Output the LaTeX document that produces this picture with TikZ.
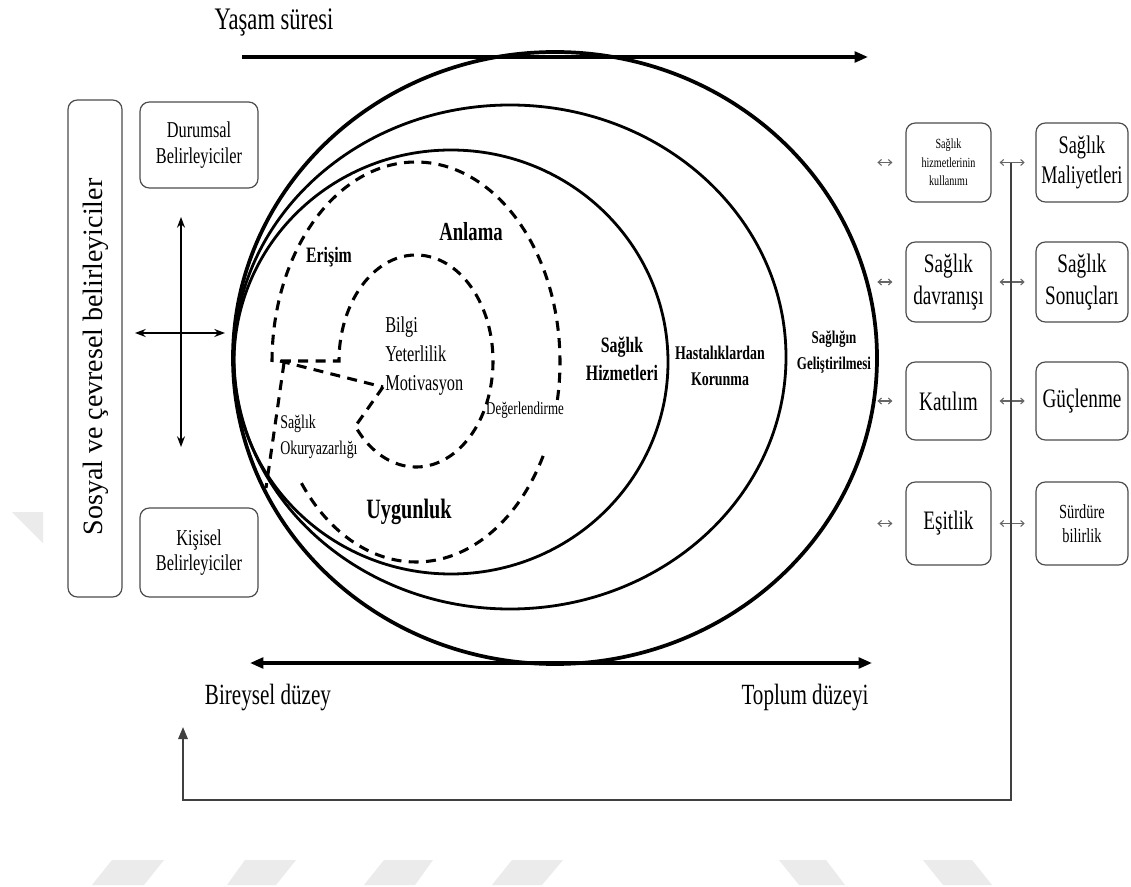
\documentclass[tikz,border=0pt]{standalone}
\usepackage{fontspec}
\setmainfont[FakeStretch=0.72]{Liberation Serif}
\newfontfamily\widefont{Liberation Serif}
\usetikzlibrary{arrows.meta,calc}
\begin{document}
\begin{tikzpicture}[x=0.75pt,y=-0.75pt,
  outerell/.style={line width=2.8pt},
  midell/.style={line width=2.1pt},
  dsh/.style={line width=2.3pt, dash pattern=on 7.5pt off 5.5pt},
  box/.style={draw=black!70, line width=0.9pt, rounded corners=7pt, inner sep=0pt, align=center},
  bigarrow/.style={line width=2.4pt, -{Triangle[length=10pt,width=8pt]}},
  bigdbl/.style={line width=2.4pt, {Triangle[length=10pt,width=8pt]}-{Triangle[length=10pt,width=8pt]}},
  cross/.style={line width=1.1pt, {Stealth[length=8pt,width=6pt]}-{Stealth[length=8pt,width=6pt]}},
  dbl/.style={black!60, line width=0.8pt, {Straight Barb[length=2.5pt,width=4.5pt]}-{Straight Barb[length=2.5pt,width=4.5pt]}},
  fb/.style={black!75, line width=1.6pt, -{Triangle[length=9pt,width=7pt]}},
  wm/.style={fill=black!8, draw=none},
  lab/.style={inner sep=0pt, align=center},
  bl/.style={inner sep=0pt, align=center, font=\bfseries}
]
\useasboundingbox (0,0) rectangle (1131,887);
\fill[white] (0,0) rectangle (1131,887);

% faint watermark shapes
\fill[wm] (112,860) -- (164,860) -- (144,885) -- (92,885) -- cycle;
\fill[wm] (245,860) -- (296,860) -- (276,885) -- (227,885) -- cycle;
\fill[wm] (384,860) -- (433,860) -- (415,885) -- (364,885) -- cycle;
\fill[wm] (512,860) -- (563,860) -- (542,885) -- (492,885) -- cycle;
\fill[wm] (779,860) -- (826,860) -- (845,885) -- (799,885) -- cycle;
\fill[wm] (923,860) -- (972,860) -- (992,885) -- (943,885) -- cycle;
\fill[wm] (12,512) -- (43,512) -- (43,543) -- cycle;

% solid ellipses
\draw[outerell] (555,358) ellipse [x radius=322, y radius=306];
\draw[midell] (510,357) ellipse [x radius=276, y radius=252];
\draw[midell] (451,362) ellipse [x radius=217, y radius=212];

% dashed outer (Anlama) shape
\coordinate (bd) at (416,362);
\draw[dsh] ($(bd)+(28:144 and 200)$) arc[start angle=28, end angle=143, x radius=144, y radius=200];
\draw[dsh] ($(bd)+(180:144 and 200)$) arc[start angle=180, end angle=371, x radius=144, y radius=200];
\coordinate (dnT) at (284,363);
\coordinate (dnB) at (266,488);
\draw[dsh] (dnT) -- (dnB);

% dashed inner shape
\coordinate (ic) at (416,361);
\coordinate (spkE) at (383,387);
\coordinate (spkS) at (280,361);
\coordinate (hL) at (276,361);
\draw[dsh] (spkE) -- ($(ic)+(142:77 and 106)$) arc[start angle=142, end angle=-180, x radius=77, y radius=106] -- (hL);
\draw[dsh] (spkS) -- (spkE);

% top and bottom arrows
\coordinate (lsL) at (242,57);
\coordinate (lsR) at (868,57);
\draw[bigarrow] (lsL) -- (lsR);
\coordinate (bdL) at (250,663);
\coordinate (bdR) at (872,663);
\draw[bigdbl] (bdL) -- (bdR);

\node[lab, font=\fontsize{23.5pt}{27pt}\selectfont] (yas) at (274,22) {Yaşam süresi};
\node[lab, font=\fontsize{22pt}{26pt}\selectfont] (bir) at (268,697) {Bireysel düzey};
\node[lab, font=\fontsize{22pt}{26pt}\selectfont] (top) at (805,697) {Toplum düzeyi};

% labels inside
\node[bl, font=\bfseries\fontsize{19.5pt}{22pt}\selectfont] (anl) at (471,232) {Anlama};
\node[bl, font=\bfseries\fontsize{16.5pt}{19pt}\selectfont] (eri) at (329,257) {Erişim};
\node[bl, font=\bfseries\fontsize{21pt}{24pt}\selectfont] (uyg) at (409,512) {Uygunluk};
\node[lab, align=left, anchor=west, font=\fontsize{17pt}{22pt}\selectfont] (bym) at (385,356) {Bilgi\\Yeterlilik\\Motivasyon};
\node[lab, font=\fontsize{13.5pt}{16pt}\selectfont] (deg) at (525,410) {Değerlendirme};
\node[lab, align=left, anchor=west, font=\fontsize{14.5pt}{19pt}\selectfont] (oky) at (280,437) {Sağlık\\Okuryazarlığı};
\node[bl, font=\bfseries\fontsize{16.5pt}{21pt}\selectfont] (shz) at (622,359) {Sağlık\\Hizmetleri};
\node[bl, font=\bfseries\fontsize{14.5pt}{20pt}\selectfont] (hko) at (720,366) {Hastalıklardan\\Korunma};
\node[bl, font=\bfseries\fontsize{13.5pt}{19pt}\selectfont] (sge) at (834,352) {Sağlığın\\Geliştirilmesi};

% left side
\node[box, minimum width=40.5pt, minimum height=372.75pt] (sos) at (95,348.5) {};
\node[lab, rotate=90, font=\widefont\fontsize{21pt}{24pt}\selectfont] (sost) at (96,357) {Sosyal ve çevresel belirleyiciler};
\node[box, minimum width=88.5pt, minimum height=64.5pt, font=\fontsize{17pt}{19pt}\selectfont] (dur) at (199,145) {Durumsal\\Belirleyiciler};
\node[box, minimum width=88.5pt, minimum height=66.75pt, font=\fontsize{17pt}{19pt}\selectfont] (kis) at (199,552.5) {Kişisel\\Belirleyiciler};
\coordinate (cvT) at (181,217);
\coordinate (cvB) at (181,447);
\coordinate (chL) at (135,333);
\coordinate (chR) at (225,333);
\draw[cross] (cvT) -- (cvB);
\draw[cross] (chL) -- (chR);

% right boxes
\node[box, minimum width=63.75pt, minimum height=59.25pt, font=\fontsize{10.5pt}{14pt}\selectfont] (r1) at (948.5,162.5) {Sağlık\\hizmetlerinin\\kullanımı};
\node[box, minimum width=63.75pt, minimum height=60pt, font=\fontsize{20pt}{24pt}\selectfont] (r2) at (948.5,282) {Sağlık\\davranışı};
\node[box, minimum width=63.75pt, minimum height=58.5pt, font=\fontsize{20pt}{24pt}\selectfont] (r3) at (948.5,401) {Katılım};
\node[box, minimum width=63.75pt, minimum height=62.25pt, font=\fontsize{20pt}{24pt}\selectfont] (r4) at (948.5,523.5) {Eşitlik};
\node[box, minimum width=69pt, minimum height=59.25pt, font=\fontsize{19pt}{23pt}\selectfont] (s1) at (1082,162.5) {Sağlık\\Maliyetleri};
\node[box, minimum width=69pt, minimum height=60pt, font=\fontsize{20pt}{24pt}\selectfont] (s2) at (1082,282) {Sağlık\\Sonuçları};
\node[box, minimum width=69pt, minimum height=58.5pt, font=\fontsize{20pt}{24pt}\selectfont] (s3) at (1082,401) {Güçlenme};
\node[box, minimum width=69pt, minimum height=62.25pt, font=\fontsize{15pt}{17.5pt}\selectfont] (s4) at (1082,523.5) {Sürdüre\\bilirlik};

% small double arrows
\foreach \a/\b in {r1/s1,r2/s2,r3/s3,r4/s4}{
  \draw[dbl] ([xshift=-21pt]\a.west) -- ([xshift=-9.75pt]\a.west);
  \draw[dbl, shorten <=6pt, shorten >=8pt] (\a.east) -- (\b.west);
}

% feedback loop
\coordinate (fbT) at (1011,163);
\coordinate (fbBR) at (1011,800);
\coordinate (fbBL) at (183,800);
\coordinate (fbE) at (183,727);
\draw[fb] (fbT) -- (fbBR) -- (fbBL) -- (fbE);
\end{tikzpicture}
\end{document}
